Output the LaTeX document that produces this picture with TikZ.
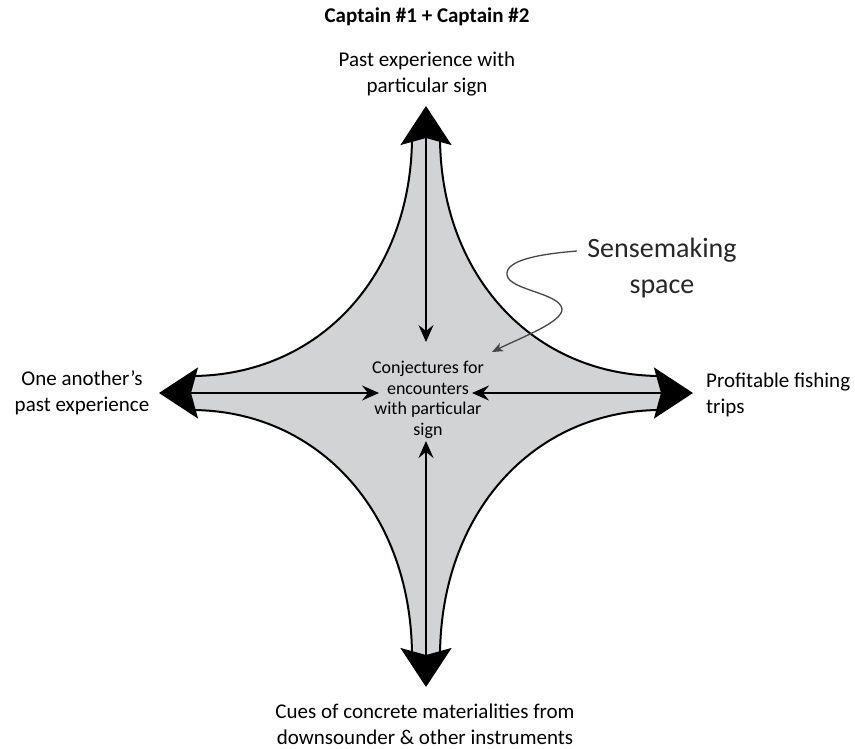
\documentclass[tikz,border=0pt]{standalone}
\usepackage{fontspec}
\setmainfont{Carlito}
\usetikzlibrary{arrows.meta,calc}
\definecolor{starfill}{RGB}{210,211,213}
\definecolor{notegray}{RGB}{70,70,70}
\begin{document}
\begin{tikzpicture}[x=1pt,y=-1pt,
  lbl/.style={font=\fontsize{21}{26}\selectfont, align=center, inner sep=0pt},
  centretext/.style={font=\fontsize{18}{20.5}\selectfont, align=center, inner sep=0pt},
  notetext/.style={font=\fontsize{28}{36}\selectfont, align=center, inner sep=0pt, text=black!85},
  edge/.style={draw=black, line width=2pt},
  axisarrow/.style={line width=2pt,
    {Stealth[length=39pt,width=51pt,inset=7pt]}-{Stealth[length=17pt,width=15pt,inset=6pt]}},
  notearrow/.style={draw=notegray, line width=1.3pt, -{Stealth[length=11pt,width=9pt,inset=3pt]}}]
\useasboundingbox (0,0) rectangle (855,748);

% tips of the four axes and the ends of the inner arrows
\coordinate (tipT) at (426,106);
\coordinate (tipB) at (426,687);
\coordinate (tipL) at (159,393);
\coordinate (tipR) at (693,393);
\coordinate (eT) at (426,342);
\coordinate (eB) at (426,441);
\coordinate (eL) at (379,393);
\coordinate (eR) at (472,393);

% inner corners of the four arms
\coordinate (ctr) at (440,376);
\coordinate (cbr) at (440,410);
\coordinate (cbl) at (412,410);
\coordinate (ctl) at (412,376);
% ends of the arms, hidden under the arrowheads
\coordinate (tR) at (440,136);
\coordinate (tL) at (412,136);
\coordinate (rT) at (661,376);
\coordinate (rB) at (661,410);
\coordinate (bR) at (440,657);
\coordinate (bL) at (412,657);
\coordinate (lB) at (191,410);
\coordinate (lT) at (191,376);

% the four-pointed sensemaking space
\fill[starfill]
  (tR) .. controls ($(ctr)!0.42!(tR)$) and ($(ctr)!0.42!(rT)$) .. (rT) -- (rB)
       .. controls ($(cbr)!0.42!(rB)$) and ($(cbr)!0.42!(bR)$) .. (bR) -- (bL)
       .. controls ($(cbl)!0.42!(bL)$) and ($(cbl)!0.42!(lB)$) .. (lB) -- (lT)
       .. controls ($(ctl)!0.42!(lT)$) and ($(ctl)!0.42!(tL)$) .. (tL) -- cycle;
\draw[edge] (tR) .. controls ($(ctr)!0.42!(tR)$) and ($(ctr)!0.42!(rT)$) .. (rT);
\draw[edge] (rB) .. controls ($(cbr)!0.42!(rB)$) and ($(cbr)!0.42!(bR)$) .. (bR);
\draw[edge] (bL) .. controls ($(cbl)!0.42!(bL)$) and ($(cbl)!0.42!(lB)$) .. (lB);
\draw[edge] (lT) .. controls ($(ctl)!0.42!(lT)$) and ($(ctl)!0.42!(tL)$) .. (tL);

% axes
\draw[axisarrow] (tipT) -- (eT);
\draw[axisarrow] (tipB) -- (eB);
\draw[axisarrow] (tipL) -- (eL);
\draw[axisarrow] (tipR) -- (eR);

% labels
\node[lbl, font=\fontsize{21}{26}\selectfont\bfseries] (title) at (427,17) {Captain \#1 + Captain \#2};
\node[lbl] (top) at (427,74) {Past experience with\\particular sign};
\node[lbl] (left) at (82,393) {One another’s\\past experience};
\node[lbl, align=left, anchor=west] (right) at (706,395) {Profitable fishing\\trips};
\node[lbl] (bottom) at (425,724) {Cues of concrete materialities from\\downsounder \& other instruments};
\node[centretext] (centre) at (428,400) {Conjectures for\\encounters\\with particular\\sign};

% annotation
\node[notetext] (sense) at (662,268) {Sensemaking\\space};
\coordinate (sstart) at (577,251);
\coordinate (send) at (492,352);
\draw[notearrow] (sstart) .. controls (540,254) and (505,260) .. (507,275)
  .. controls (509,290) and (560,293) .. (562,309)
  .. controls (563,322) and (520,338) .. (send);
\end{tikzpicture}
\end{document}
